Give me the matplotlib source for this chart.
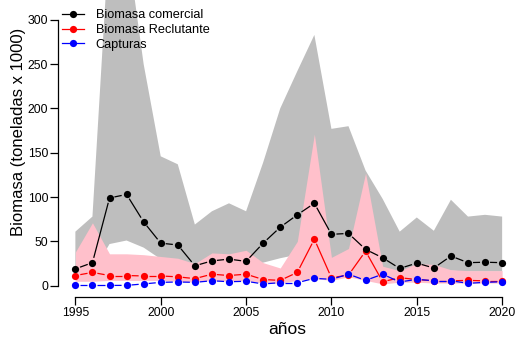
import numpy as np
import matplotlib.pyplot as plt
from matplotlib.collections import LineCollection
from matplotlib.lines import Line2D

plt.rcParams['font.family'] = ['Liberation Sans', 'DejaVu Sans']

# ---------------------------------------------------------------------------
# Series (toneladas x 1000)
# ---------------------------------------------------------------------------
anios = np.arange(1995, 2021)

biomasa_comercial = [19, 26, 99, 103, 72, 48, 46, 22.5, 28, 30, 27.5, 48, 66,
                     80, 93, 58, 59, 41, 31.5, 19.5, 25.5, 20, 33.5, 26, 26.5, 26]
comercial_inf = [10, 14, 47, 51, 43, 30, 28, 18, 20, 22, 20, 26, 31,
                 35, 40, 25, 28, 22, 20, 16, 22, 20, 17, 16, 16, 16]
comercial_sup = [61, 78, 400, 390, 250, 146, 137, 69, 84, 93, 84, 139, 200,
                 242, 283, 177, 180, 130, 98, 61, 77, 62, 97, 78, 80, 78]

biomasa_reclutante = [11.5, 15, 11.5, 11.5, 11, 11, 10, 8, 13, 11.5, 13, 7, 6,
                      15, 52.5, 9, 12, 39, 4.5, 9, 7, 5.5, 5.5, 6, 5.5, 5.5]
reclutante_inf = [5, 5, 6, 6, 6, 6, 5, 4, 6, 5, 6, 3, 3,
                  6, 8, 6, 10, 6, 2, 4, 4, 3, 3, 3, 3, 3]
reclutante_sup = [38, 71, 36, 36, 35, 33, 31, 25, 37, 36, 40, 26, 20,
                  50, 171, 32, 42, 127, 22, 17, 25, 24, 18, 17, 17, 17]

capturas = [0.3, 0.3, 0.3, 0.4, 2, 3.8, 4.2, 3.8, 5.6, 4.5, 5, 2, 3.4,
            3.4, 8.3, 7.2, 13, 6, 13, 4.2, 7.2, 5.6, 5.6, 2.7, 3.8, 4.5]

x_ticks = [1995, 2000, 2005, 2010, 2015, 2020]
y_ticks = [0, 50, 100, 150, 200, 250, 300]

W, H = 515, 340
fig = plt.figure(figsize=(W / 100, H / 100), dpi=100)
ax = fig.add_axes([58.3 / W, 43.3 / H, 460.9 / W, 296.7 / H])
ax.set_xlim(1994, 2021)
ax.set_ylim(-12.4, 322.4)


def gapped_segments(ax, x, y, gap_px=5.0):
    """Segments between consecutive points, cut back around each point
    (like R's type = "b")."""
    pts = ax.transData.transform(np.column_stack([x, y]))
    inv = ax.transData.inverted()
    segs = []
    for p0, p1 in zip(pts[:-1], pts[1:]):
        d = p1 - p0
        length = np.hypot(*d)
        if length <= 2 * gap_px:
            continue
        u = d / length
        segs.append(inv.transform([p0 + u * gap_px, p1 - u * gap_px]))
    return segs


# confidence bands
ax.fill_between(anios, comercial_inf, comercial_sup, color='#BEBEBE', lw=0, zorder=1)
ax.fill_between(anios, reclutante_inf, reclutante_sup, color='#FFC0CB', lw=0, zorder=2)

series = [
    (biomasa_reclutante, '#FF0000', 3),
    (biomasa_comercial, 'black', 4),
    (capturas, '#0000FF', 5),
]
for vals, col, z in series:
    lc = LineCollection(gapped_segments(ax, anios, vals), colors=col,
                        linewidths=0.9, zorder=z)
    ax.add_collection(lc, autolim=False)
    ax.plot(anios, vals, ls='none', marker='o', ms=5.2, mew=0,
            color=col, zorder=z)

ax.set_xlim(1994, 2021)
ax.set_ylim(-12.4, 322.4)

for side in ('top', 'right'):
    ax.spines[side].set_visible(False)
ax.spines['left'].set_bounds(0, 300)
ax.spines['bottom'].set_bounds(1995, 2020)
for side in ('left', 'bottom'):
    ax.spines[side].set_linewidth(0.9)

ax.set_xticks(x_ticks)
ax.set_yticks(y_ticks)
ax.tick_params(axis='both', length=5.8, width=0.9, labelsize=8.8, pad=1.5)

fig.text(287.5 / W, 1 - 330 / H, 'años', ha='center', va='center', fontsize=12.5)
fig.text(19 / W, 1 - 131.7 / H, 'Biomasa (toneladas x 1000)', rotation=90,
         ha='center', va='center', fontsize=12)

handles = [
    Line2D([], [], color='black', marker='o', ms=5.2, mew=0, lw=0.9),
    Line2D([], [], color='#FF0000', marker='o', ms=5.2, mew=0, lw=0.9),
    Line2D([], [], color='#0000FF', marker='o', ms=5.2, mew=0, lw=0.9),
]
ax.legend(handles, ['Biomasa comercial', 'Biomasa Reclutante', 'Capturas'],
          loc='upper left', bbox_to_anchor=(0.0074, 0.968), frameon=False,
          borderpad=0, borderaxespad=0, handlelength=1.73, handletextpad=0.94,
          labelspacing=0.2, fontsize=9.2, numpoints=1)

fig.savefig('out.png', dpi=100)
